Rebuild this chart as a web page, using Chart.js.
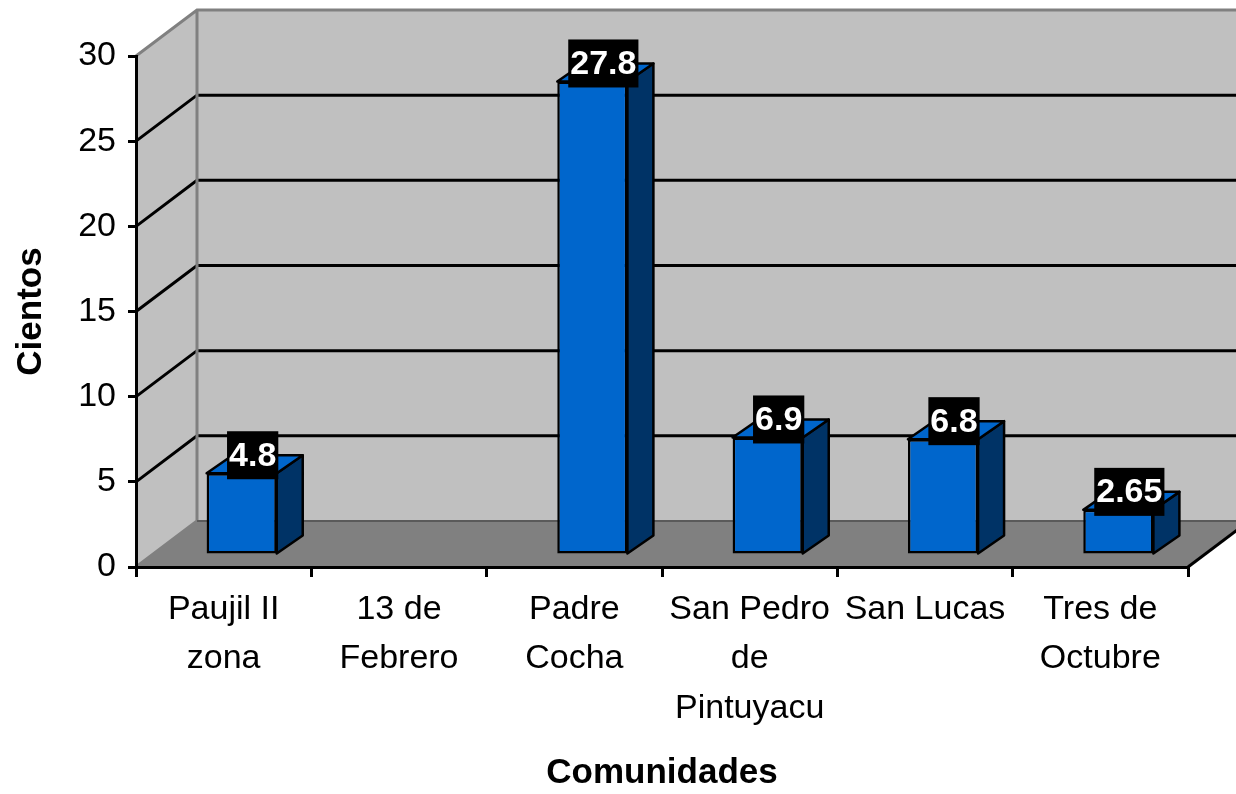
<!DOCTYPE html>
<html>
<head>
<meta charset="utf-8">
<script src="https://cdn.jsdelivr.net/npm/chart.js@4/dist/chart.umd.min.js"></script>
<style>
  html, body { margin: 0; padding: 0; background: #fff; }
  #wrap { width: 1236px; height: 794px; }
</style>
</head>
<body>
<div id="wrap"><canvas id="comunidadesChart"></canvas></div>
<script>
// data
const categories = [['Paujil II', 'zona'], ['13 de', 'Febrero'], ['Padre', 'Cocha'], ['San Pedro', 'de', 'Pintuyacu'], 'San Lucas', ['Tres de', 'Octubre']];
const values = [4.8, null, 27.8, 6.9, 6.8, 2.65];
const valueLabels = ['4.8', '', '27.8', '6.9', '6.8', '2.65'];
const yTicks = [0, 5, 10, 15, 20, 25, 30];

// 3d look
const depth = { x: 61, y: -46 };
const barShift = { x: 18, y: -12 };
const barDepth = { x: 26, y: -18 };
const FONT = "'Liberation Sans', Arial, sans-serif";

const walls = {
    id: 'walls',
    beforeDraw(chart) {
        const { ctx, chartArea: a, scales: { y } } = chart;
        const y0 = y.getPixelForValue(yTicks[0]);
        const yTop = y.getPixelForValue(yTicks[yTicks.length - 1]);
        const bx = a.left + depth.x;
        const backTop = yTop + depth.y;
        const backFloor = y0 + depth.y;
        const farRight = a.right + depth.x;
        ctx.save();
        // back wall
        ctx.fillStyle = '#c0c0c0';
        ctx.fillRect(bx, backTop, farRight - bx, backFloor - backTop);
        // side wall
        ctx.beginPath();
        ctx.moveTo(a.left, yTop);
        ctx.lineTo(bx, backTop);
        ctx.lineTo(bx, backFloor);
        ctx.lineTo(a.left, y0);
        ctx.closePath();
        ctx.fill();
        // floor
        ctx.fillStyle = '#808080';
        ctx.beginPath();
        ctx.moveTo(a.left, y0);
        ctx.lineTo(bx, backFloor);
        ctx.lineTo(farRight, backFloor);
        ctx.lineTo(a.right, y0);
        ctx.closePath();
        ctx.fill();
        // grid lines
        ctx.strokeStyle = '#000';
        ctx.lineWidth = 3;
        yTicks.slice(1, -1).forEach(v => {
            const py = y.getPixelForValue(v);
            ctx.beginPath();
            ctx.moveTo(a.left, py);
            ctx.lineTo(bx, py + depth.y);
            ctx.lineTo(farRight, py + depth.y);
            ctx.stroke();
        });
        // wall edges
        ctx.strokeStyle = '#808080';
        ctx.beginPath();
        ctx.moveTo(a.left, yTop);
        ctx.lineTo(bx, backTop);
        ctx.lineTo(farRight, backTop);
        ctx.moveTo(bx, backTop);
        ctx.lineTo(bx, backFloor);
        ctx.moveTo(a.left, y0);
        ctx.lineTo(bx, backFloor);
        ctx.stroke();
        ctx.strokeStyle = '#5a5a5a';
        ctx.lineWidth = 2;
        ctx.beginPath();
        ctx.moveTo(bx, backFloor);
        ctx.lineTo(farRight, backFloor);
        ctx.stroke();
        // right floor edge
        ctx.strokeStyle = '#000';
        ctx.lineWidth = 3;
        ctx.beginPath();
        ctx.moveTo(a.right, y0);
        ctx.lineTo(farRight, backFloor);
        ctx.stroke();
        ctx.restore();
    },
    beforeDatasetsDraw(chart) {
        chart.ctx.save();
        chart.ctx.translate(barShift.x, barShift.y);
    },
    afterDatasetsDraw(chart) {
        const ctx = chart.ctx;
        ctx.restore();
        const bars = chart.getDatasetMeta(0).data;
        ctx.save();
        ctx.lineWidth = 2.5;
        ctx.strokeStyle = '#000';
        ctx.lineJoin = 'round';
        bars.forEach((bar, i) => {
            if (values[i] == null) return;
            const l = bar.x - bar.width / 2 + barShift.x;
            const r = bar.x + bar.width / 2 + barShift.x;
            const t = bar.y + barShift.y;
            const b = bar.base + barShift.y;
            // side
            ctx.fillStyle = '#003366';
            ctx.beginPath();
            ctx.moveTo(r, t);
            ctx.lineTo(r + barDepth.x, t + barDepth.y);
            ctx.lineTo(r + barDepth.x, b + barDepth.y);
            ctx.lineTo(r, b);
            ctx.closePath();
            ctx.fill();
            ctx.stroke();
            // top
            ctx.fillStyle = '#0066cc';
            ctx.beginPath();
            ctx.moveTo(l, t);
            ctx.lineTo(l + barDepth.x, t + barDepth.y);
            ctx.lineTo(r + barDepth.x, t + barDepth.y);
            ctx.lineTo(r, t);
            ctx.closePath();
            ctx.fill();
            ctx.stroke();
        });
        // value labels
        ctx.font = 'bold 34px ' + FONT;
        ctx.textAlign = 'center';
        ctx.textBaseline = 'middle';
        bars.forEach((bar, i) => {
            if (values[i] == null) return;
            const cx = bar.x + barShift.x + 11;
            const cy = bar.y + barShift.y - 18;
            const w = ctx.measureText(valueLabels[i]).width + 4;
            ctx.fillStyle = '#000';
            ctx.fillRect(cx - w / 2, cy - 24, w, 48);
            ctx.fillStyle = '#fff';
            ctx.fillText(valueLabels[i], cx, cy + 1);
        });
        ctx.restore();
    }
};

document.addEventListener('DOMContentLoaded', function() {
    const ctx = document.getElementById('comunidadesChart').getContext('2d');
    new Chart(ctx, {
        type: 'bar',
        data: {
            labels: categories,
            datasets: [{
                data: values,
                backgroundColor: '#0066cc',
                borderColor: '#000',
                borderWidth: 2.5,
                borderSkipped: false,
                barPercentage: 0.4,
                categoryPercentage: 1
            }]
        },
        options: {
            responsive: true,
            maintainAspectRatio: false,
            animation: false,
            layout: { padding: { top: 56, right: 48, left: 0, bottom: 0 } },
            plugins: { legend: { display: false }, tooltip: { enabled: false } },
            scales: {
                x: {
                    afterFit: s => { s.height = 227; },
                    grid: { drawOnChartArea: false, drawTicks: true, tickLength: 10, color: '#000', lineWidth: 3 },
                    border: { display: true, color: '#000', width: 3 },
                    ticks: { color: '#000', font: { family: FONT, size: 34, lineHeight: 1.45 }, padding: 8, maxRotation: 0, autoSkip: false },
                    title: { display: true, text: 'Comunidades', color: '#000', font: { family: FONT, size: 35, weight: 'bold' }, padding: 0 }
                },
                y: {
                    min: 0,
                    max: 30,
                    afterFit: s => { s.width = 136; },
                    afterBuildTicks: s => { s.ticks = yTicks.map(v => ({ value: v })); },
                    grid: { drawOnChartArea: false, drawTicks: true, tickLength: 8, color: '#000', lineWidth: 3 },
                    border: { display: true, color: '#000', width: 3 },
                    ticks: { color: '#000', font: { family: FONT, size: 34 }, padding: 12 },
                    title: { display: true, text: 'Cientos', color: '#000', font: { family: FONT, size: 35, weight: 'bold' }, padding: { top: 10, bottom: 0 } }
                }
            }
        },
        plugins: [walls]
    });
});
</script>
</body>
</html>
